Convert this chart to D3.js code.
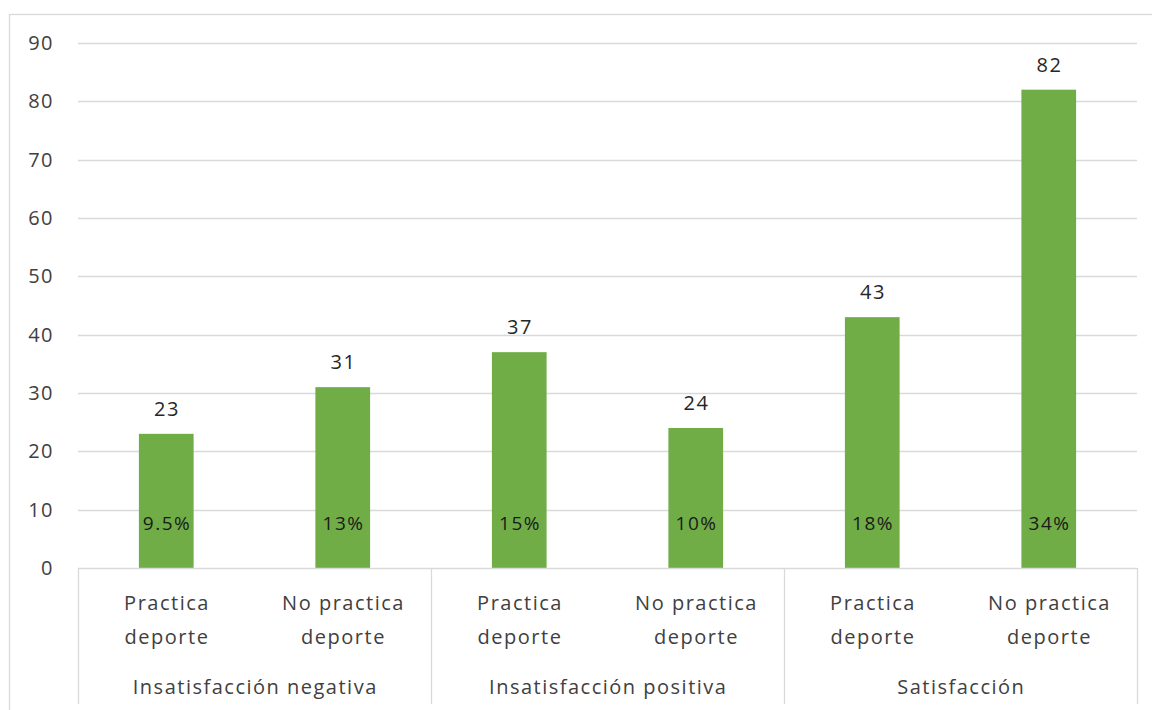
<!DOCTYPE html>
<html>
<head>
<meta charset="utf-8">
<script src="https://cdn.jsdelivr.net/npm/d3@7"></script>
<style>
  html, body { margin: 0; padding: 0; background: #fff; }
  svg { display: block; }
  text { font-family: "Open Sans", "Noto Sans", sans-serif; letter-spacing: 1.5px; }
</style>
</head>
<body>
<svg id="chart" width="1152" height="710"></svg>
<script>
// Groups and their sub-categories
const groups = ["Insatisfacción negativa", "Insatisfacción positiva", "Satisfacción"];
const subCategories = ["Practica deporte", "No practica deporte"];
// Counts per bar (group order, then sub-category order)
const counts = [23, 31, 37, 24, 43, 82];
// Share of total shown inside each bar
const shares = ["9.5%", "13%", "15%", "10%", "18%", "34%"];
const yTicks = [0, 10, 20, 30, 40, 50, 60, 70, 80, 90];

const bars = counts.map((v, i) => ({
  group: groups[Math.floor(i / subCategories.length)],
  sub: subCategories[i % subCategories.length],
  key: i,
  value: v,
  share: shares[i]
}));

const svg = d3.select("#chart");
const margin = { left: 78, right: 15, top: 43, bottom: 142 };
const W = 1152, H = 710;
const x0 = margin.left, x1 = W - margin.right;
const yTop = margin.top, yBase = H - margin.bottom;
const ls = 0.75; // half the letter spacing, to re-centre middle-anchored text

const x = d3.scaleBand().domain(bars.map(d => d.key)).range([x0, x1]).paddingInner(0.69).paddingOuter(0.345);
const xGroup = d3.scaleBand().domain(groups).range([x0, x1]);
const y = d3.scaleLinear().domain([0, 90]).range([yBase, yTop]);

// Chart frame
svg.append("rect")
  .attr("x", 9.5).attr("y", 14.5).attr("width", W + 10).attr("height", H + 10)
  .attr("fill", "none").attr("stroke", "#d9d9d9").attr("stroke-width", 1.3);

// Gridlines
svg.append("g")
  .selectAll("line").data(yTicks.filter(t => t > 0)).join("line")
  .attr("x1", x0).attr("x2", x1)
  .attr("y1", d => Math.round(y(d)) + 0.5).attr("y2", d => Math.round(y(d)) + 0.5)
  .attr("stroke", "#d9d9d9").attr("stroke-width", 1.3);

// Y axis labels
const yAxis = d3.axisLeft(y).tickValues(yTicks).tickSize(0).tickPadding(24);
svg.append("g").attr("transform", `translate(${x0},0)`).call(yAxis)
  .call(g => g.select(".domain").remove())
  .call(g => g.selectAll("text")
    .attr("font-size", 20).attr("fill", "#404040")
    .attr("font-family", "'Open Sans', sans-serif"));

// Bars
svg.append("g").selectAll("rect").data(bars).join("rect")
  .attr("x", d => x(d.key)).attr("width", x.bandwidth())
  .attr("y", d => y(d.value)).attr("height", d => y(0) - y(d.value))
  .attr("fill", "#70ad47");

// Value labels above bars
svg.append("g").selectAll("text").data(bars).join("text")
  .attr("x", d => x(d.key) + x.bandwidth() / 2 + ls)
  .attr("y", d => y(d.value) - 18)
  .attr("text-anchor", "middle")
  .attr("font-size", 20).attr("fill", "#262626")
  .text(d => d.value);

// Share labels inside bars
svg.append("g").selectAll("text").data(bars).join("text")
  .attr("x", d => x(d.key) + x.bandwidth() / 2 + ls)
  .attr("y", y(0) - 38)
  .attr("text-anchor", "middle")
  .attr("font-size", 19).attr("fill", "#1a1a1a")
  .text(d => d.share);

// Category axis line
svg.append("line")
  .attr("x1", x0).attr("x2", x1).attr("y1", yBase + 0.5).attr("y2", yBase + 0.5)
  .attr("stroke", "#d9d9d9").attr("stroke-width", 1.3);

// Group separators
const seps = groups.map(g => xGroup(g)).concat([x1]);
svg.append("g").selectAll("line").data(seps).join("line")
  .attr("x1", d => Math.round(d) + 0.5).attr("x2", d => Math.round(d) + 0.5)
  .attr("y1", yBase).attr("y2", 704)
  .attr("stroke", "#d9d9d9").attr("stroke-width", 1.3);

// Sub-category labels (two lines)
const subG = svg.append("g").selectAll("text").data(bars).join("text")
  .attr("text-anchor", "middle")
  .attr("font-size", 20).attr("fill", "#404040");
subG.each(function(d) {
  const words = d.sub.split(" ");
  const lines = words.length > 2 ? [words.slice(0, 2).join(" "), words.slice(2).join(" ")] : [words[0], words.slice(1).join(" ")];
  const t = d3.select(this);
  lines.forEach((ln, i) => {
    t.append("tspan")
      .attr("x", x(d.key) + x.bandwidth() / 2 + ls)
      .attr("y", 610 + i * 34)
      .text(ln);
  });
});

// Group labels
svg.append("g").selectAll("text").data(groups).join("text")
  .attr("x", d => xGroup(d) + xGroup.bandwidth() / 2 + ls)
  .attr("y", 694)
  .attr("text-anchor", "middle")
  .attr("font-size", 20).attr("fill", "#404040")
  .text(d => d);
</script>
</body>
</html>
